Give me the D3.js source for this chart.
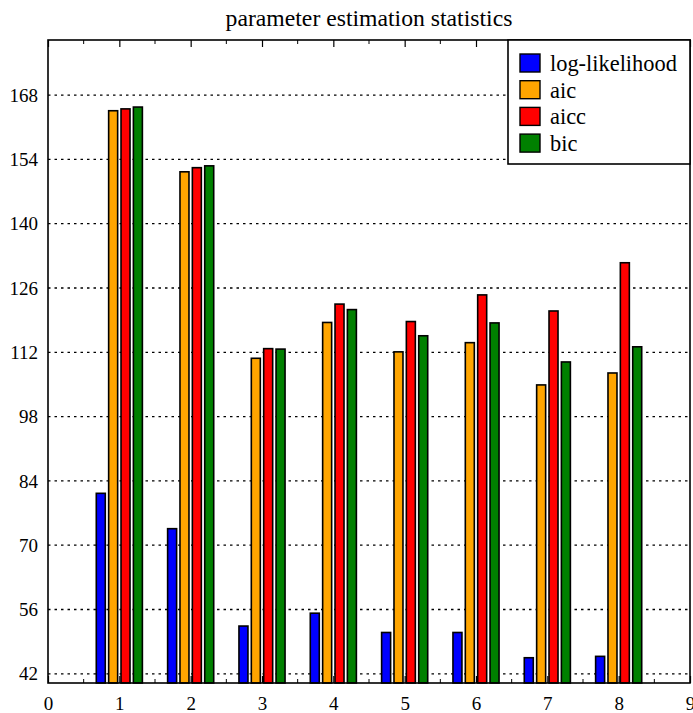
<!DOCTYPE html>
<html>
<head>
<meta charset="utf-8">
<script src="https://cdn.jsdelivr.net/npm/d3@7"></script>
<style>
  body { margin: 0; background: #fff; }
  text { font-family: "Liberation Serif", "Times New Roman", serif; fill: #000; }
</style>
</head>
<body>
<svg id="chart" width="693" height="713"></svg>
<script>
// values
var groups = [1, 2, 3, 4, 5, 6, 7, 8];
var seriesNames = ["log-likelihood", "aic", "aicc", "bic"];
var seriesColors = ["#0000ff", "#ffa500", "#ff0000", "#008000"];
var logLikelihood = [81.3, 73.6, 52.4, 55.2, 51.0, 51.0, 45.5, 45.8];
var aic = [164.6, 151.3, 110.7, 118.5, 112.1, 114.1, 104.9, 107.5];
var aicc = [165.0, 152.2, 112.8, 122.5, 118.7, 124.5, 121.0, 131.5];
var bic = [165.4, 152.6, 112.7, 121.3, 115.6, 118.4, 109.9, 113.2];
var xTicks = [0, 1, 2, 3, 4, 5, 6, 7, 8, 9];
var yTicks = [42, 56, 70, 84, 98, 112, 126, 140, 154, 168];
var titleText = "parameter estimation statistics";

var seriesValues = [logLikelihood, aic, aicc, bic];

var svg = d3.select("#chart");
var plotLeft = 48, plotRight = 690, plotTop = 40, plotBottom = 683;

var x = d3.scaleLinear().domain([0, 9]).range([plotLeft, plotRight]);
var y = d3.scaleLinear().domain([40, 180]).range([plotBottom, plotTop]);

// position of each series inside a group, in x units
var inner = d3.scalePoint().domain(seriesNames).range([-0.26, 0.26]);
var barWidth = 9;

// title
svg.append("text")
    .attr("x", (plotLeft + plotRight) / 2)
    .attr("y", 26)
    .attr("text-anchor", "middle")
    .style("font-size", "23.7px")
    .text(titleText);

// dotted grid lines
svg.append("g")
    .selectAll("line")
    .data(yTicks)
    .enter().append("line")
    .attr("x1", plotLeft)
    .attr("x2", plotRight)
    .attr("y1", function(d) { return y(d); })
    .attr("y2", function(d) { return y(d); })
    .attr("stroke", "#000")
    .attr("stroke-width", 1.3)
    .attr("stroke-dasharray", "2.5,4");

// bars
var bars = [];
seriesNames.forEach(function(name, i) {
	groups.forEach(function(g, j) {
		bars.push({ group: g, name: name, color: seriesColors[i], value: seriesValues[i][j] });
	});
});

svg.append("g")
    .selectAll("rect")
    .data(bars)
    .enter().append("rect")
    .attr("x", function(d) { return x(d.group + inner(d.name)) - barWidth / 2; })
    .attr("width", barWidth)
    .attr("y", function(d) { return y(d.value); })
    .attr("height", function(d) { return y(40) - y(d.value); })
    .attr("fill", function(d) { return d.color; })
    .attr("stroke", "#000")
    .attr("stroke-width", 1.6);

// axes: inward ticks, major at integers, minor at halves
var xMinor = d3.range(0.5, 9, 1);

var bottomAxis = svg.append("g").attr("transform", "translate(0," + plotBottom + ")");
bottomAxis.call(d3.axisBottom(x).tickValues(xTicks).tickSize(-7).tickPadding(14)
    .tickFormat(d3.format("d")));
bottomAxis.selectAll("text").style("font-size", "19px");
bottomAxis.append("g").selectAll("line").data(xMinor).enter().append("line")
    .attr("x1", x).attr("x2", x).attr("y1", 0).attr("y2", -4).attr("stroke", "#000");

var topAxis = svg.append("g").attr("transform", "translate(0," + plotTop + ")");
topAxis.call(d3.axisTop(x).tickValues(xTicks).tickSize(-7).tickFormat(""));
topAxis.append("g").selectAll("line").data(xMinor).enter().append("line")
    .attr("x1", x).attr("x2", x).attr("y1", 0).attr("y2", 4).attr("stroke", "#000");

var leftAxis = svg.append("g").attr("transform", "translate(" + plotLeft + ",0)");
leftAxis.call(d3.axisLeft(y).tickValues(yTicks).tickSize(0).tickPadding(10));
leftAxis.selectAll("text").style("font-size", "19px");

svg.selectAll(".domain").remove();
svg.selectAll(".tick line").attr("stroke-width", 1.2);

// frame
svg.append("rect")
    .attr("x", plotLeft)
    .attr("y", plotTop)
    .attr("width", plotRight - plotLeft)
    .attr("height", plotBottom - plotTop)
    .attr("fill", "none")
    .attr("stroke", "#000")
    .attr("stroke-width", 1.6);

// legend
var legend = svg.append("g").attr("transform", "translate(508," + plotTop + ")");
legend.append("rect")
    .attr("width", plotRight - 508)
    .attr("height", 124)
    .attr("fill", "#fff")
    .attr("stroke", "#000")
    .attr("stroke-width", 1.6);

var item = legend.selectAll(".item")
    .data(seriesNames)
    .enter().append("g")
    .attr("class", "item")
    .attr("transform", function(d, i) { return "translate(12," + (14 + i * 26.7) + ")"; });

item.append("rect")
    .attr("width", 20)
    .attr("height", 18)
    .attr("fill", function(d, i) { return seriesColors[i]; })
    .attr("stroke", "#000")
    .attr("stroke-width", 1.4);

item.append("text")
    .attr("x", 30)
    .attr("y", 17)
    .style("font-size", "22.4px")
    .text(function(d) { return d; });
</script>
</body>
</html>
